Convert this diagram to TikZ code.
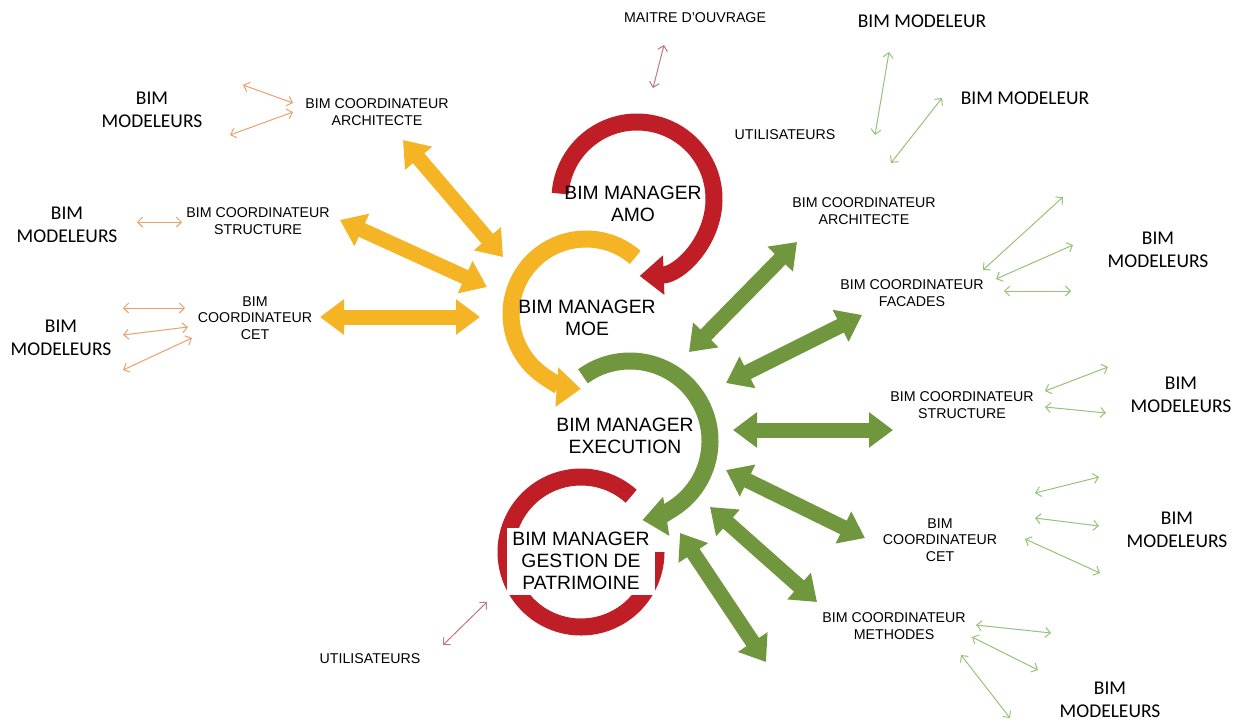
\documentclass[tikz,border=0pt]{standalone}
\usepackage{fontspec}
\setmainfont{Liberation Sans}
\newfontfamily\calib{Carlito}
\usetikzlibrary{arrows.meta}
\definecolor{cyel}{RGB}{244,180,35}
\definecolor{cgrn}{RGB}{112,150,62}
\definecolor{cred}{RGB}{192,30,38}
\definecolor{tgrn}{RGB}{150,195,120}
\definecolor{tora}{RGB}{235,160,110}
\definecolor{tred}{RGB}{195,120,125}
\begin{document}
\begin{tikzpicture}[x=1pt,y=-1pt,
 lbl/.style={font=\fontsize{14.2}{16.5}\selectfont, align=center, inner sep=0pt},
 mgr/.style={font=\fontsize{19.3}{22}\selectfont, align=center, inner sep=0pt},
 modl/.style={font=\calib\fontsize{19.5}{23.5}\selectfont, align=center, inner sep=0pt},
 big/.style={line width=15pt, {Triangle[width=34pt,length=24pt]}-{Triangle[width=34pt,length=24pt]}},
 ring/.style={line width=17pt},
 ringhead/.style={-{Triangle[width=38pt,length=24pt]}},
 thin/.style={line width=1pt, {Straight Barb[length=5pt,width=10pt]}-{Straight Barb[length=5pt,width=10pt]}},
]
\useasboundingbox[fill=white] (0,0) rectangle (1238,724);

% ring centres
\coordinate (amoC) at (637,199);
\coordinate (moeC) at (586,314);
\coordinate (exeC) at (630,441);
\coordinate (gesC) at (581,552);

% rings
\draw[ring, cred] (gesC) ++(-48:75) arc[start angle=-48, end angle=-360, radius=75];
\draw[ring, cred, ringhead] (amoC) ++(-176:77) arc[start angle=-176, end angle=88, radius=77];
\draw[ring, cyel, ringhead] (moeC) ++(-49:75) arc[start angle=-49, end angle=-266, radius=75];
\draw[ring, cgrn, ringhead] (exeC) ++(-126:80) arc[start angle=-126, end angle=81, radius=80];

% manager labels
\node[mgr] (amo) at (633,204) {BIM MANAGER\\AMO};
\node[mgr] (moe) at (587,318) {BIM MANAGER\\MOE};
\node[mgr] (exe) at (625,436) {BIM MANAGER\\EXECUTION};
\node[mgr, fill=white, minimum width=148pt, minimum height=67pt] (ges) at (581,561) {BIM MANAGER\\GESTION DE\\PATRIMOINE};

% other labels
\node[lbl] (maitre) at (695,18) {MAITRE D'OUVRAGE};
\node[lbl] (utilT) at (785,135) {UTILISATEURS};
\node[lbl] (utilB) at (370,659) {UTILISATEURS};
\node[modl] (modT1) at (922,21) {BIM MODELEUR};
\node[modl] (modT2) at (1025,98) {BIM MODELEUR};
\node[lbl] (cArchR) at (864,211) {BIM COORDINATEUR\\ARCHITECTE};
\node[lbl] (cFacR) at (912,293) {BIM COORDINATEUR\\FACADES};
\node[modl] (modFac) at (1158,250) {BIM\\MODELEURS};
\node[lbl] (cStrR) at (962,405) {BIM COORDINATEUR\\STRUCTURE};
\node[modl] (modStr) at (1181,395) {BIM\\MODELEURS};
\node[lbl] (cCetR) at (940,540) {BIM\\COORDINATEUR\\CET};
\node[modl] (modCet) at (1177,530) {BIM\\MODELEURS};
\node[lbl] (cMetR) at (894,626) {BIM COORDINATEUR\\METHODES};
\node[modl] (modMet) at (1110,700) {BIM\\MODELEURS};
\node[modl] (modA) at (152,110) {BIM\\MODELEURS};
\node[lbl] (cArchL) at (377,112) {BIM COORDINATEUR\\ARCHITECTE};
\node[modl] (modS) at (67,225) {BIM\\MODELEURS};
\node[lbl] (cStrL) at (258,221) {BIM COORDINATEUR\\STRUCTURE};
\node[modl] (modC) at (61,338) {BIM\\MODELEURS};
\node[lbl] (cCetL) at (255,318) {BIM\\COORDINATEUR\\CET};

% thin red
\coordinate (r1a) at (653,88); \coordinate (r1b) at (664,45);
\coordinate (r2a) at (443,645); \coordinate (r2b) at (487,602);
\draw[thin, tred] (r1a) -- (r1b);
\draw[thin, tred] (r2a) -- (r2b);

% thin green
\coordinate (g1a) at (875,135); \coordinate (g1b) at (889,52);
\coordinate (g2a) at (891,163); \coordinate (g2b) at (942,98);
\coordinate (g3a) at (983,270); \coordinate (g3b) at (1063,197);
\coordinate (g4a) at (996,279); \coordinate (g4b) at (1073,245);
\coordinate (g5a) at (1004,291); \coordinate (g5b) at (1071,291);
\coordinate (g6a) at (1045,391); \coordinate (g6b) at (1108,367);
\coordinate (g7a) at (1045,407); \coordinate (g7b) at (1106,413);
\coordinate (g8a) at (1035,493); \coordinate (g8b) at (1099,477);
\coordinate (g9a) at (1035,518); \coordinate (g9b) at (1099,526);
\coordinate (g10a) at (1025,539); \coordinate (g10b) at (1100,573);
\coordinate (g11a) at (976,625); \coordinate (g11b) at (1051,633);
\coordinate (g12a) at (972,637); \coordinate (g12b) at (1038,670);
\coordinate (g13a) at (961,655); \coordinate (g13b) at (1010,718);
\foreach \i in {1,...,13} {\draw[thin, tgrn] (g\i a) -- (g\i b);}

% thin orange
\coordinate (o1a) at (293,103); \coordinate (o1b) at (243,85);
\coordinate (o2a) at (293,112); \coordinate (o2b) at (230,135);
\coordinate (o3a) at (182,222); \coordinate (o3b) at (137,222);
\coordinate (o4a) at (185,308); \coordinate (o4b) at (123,308);
\coordinate (o5a) at (188,327); \coordinate (o5b) at (123,335);
\coordinate (o6a) at (192,338); \coordinate (o6b) at (123,370);
\foreach \i in {1,...,6} {\draw[thin, tora] (o\i a) -- (o\i b);}

% big yellow
\coordinate (y1a) at (403,140); \coordinate (y1b) at (503,257);
\coordinate (y2a) at (340,220); \coordinate (y2b) at (487,287);
\coordinate (y3a) at (320,317); \coordinate (y3b) at (480,317);
\foreach \i in {1,2,3} {\draw[big, cyel] (y\i a) -- (y\i b);}

% big green
\coordinate (b1a) at (797,242); \coordinate (b1b) at (689,352);
\coordinate (b2a) at (862,315); \coordinate (b2b) at (726,383);
\coordinate (b3a) at (893,430); \coordinate (b3b) at (733,430);
\coordinate (b4a) at (865,538); \coordinate (b4b) at (726,470);
\coordinate (b5a) at (817,602); \coordinate (b5b) at (710,507);
\coordinate (b6a) at (766,662); \coordinate (b6b) at (680,533);
\foreach \i in {1,...,6} {\draw[big, cgrn] (b\i a) -- (b\i b);}
\end{tikzpicture}
\end{document}
